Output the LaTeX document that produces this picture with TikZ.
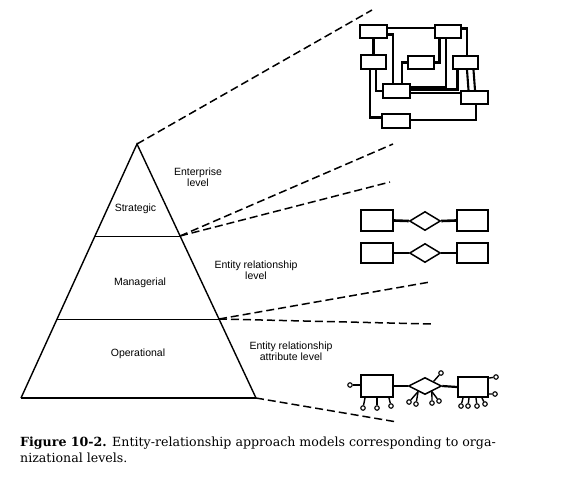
\documentclass[tikz,border=0pt]{standalone}
\usepackage{fontspec}
\setmainfont{Liberation Sans}
\newfontfamily\capfont{DejaVu Serif}
\usetikzlibrary{shapes.geometric,calc}
\begin{document}
\begin{tikzpicture}[x=1pt,y=-1pt,
  lbl/.style={font=\fontsize{10.5}{11}\selectfont, align=center, inner sep=0pt},
  edge/.style={line width=1.4pt},
  hline/.style={line width=1pt},
  dashln/.style={line width=1.5pt, dash pattern=on 8pt off 4pt},
  ebox/.style={draw, line width=1.9pt, rectangle, inner sep=0pt},
  conn/.style={line width=2.1pt},
  rel/.style={draw, line width=1.5pt, diamond, inner sep=0pt},
  attr/.style={draw, line width=1.1pt, circle, minimum size=4.5pt, inner sep=0pt},
  aline/.style={line width=1.4pt}]
\useasboundingbox (0,0) rectangle (565,480);
\fill[white] (0,0) rectangle (565,480);

% pyramid
\coordinate (apex) at (137,144);
\coordinate (bl) at (21,398);
\coordinate (br) at (256,398);
\coordinate (s1l) at (95,236);
\coordinate (s1r) at (180,236);
\coordinate (s2l) at (57,319);
\coordinate (s2r) at (219,319);
\draw[edge] (bl) -- (apex) -- (br);
\draw[line width=2.2pt] (bl) -- (br);
\draw[hline] (s1l) -- (s1r);
\draw[hline] (s2l) -- (s2r);

% level names
\node[lbl] (strat) at (135.5,209) {Strategic};
\node[lbl] (manag) at (140,283) {Managerial};
\node[lbl] (oper) at (138,354) {Operational};
\node[lbl] (ent) at (198,177) {Enterprise\\level};
\node[lbl] (erl) at (256,270) {Entity relationship\\level};
\node[lbl] (eral) at (291,351) {Entity relationship\\attribute level};

% dashed projections
\coordinate (d1) at (372,10);
\coordinate (d2) at (393,144);
\coordinate (d3) at (390,182);
\coordinate (d4) at (430,282);
\coordinate (d5) at (432,324);
\coordinate (d6) at (397,422);
\draw[dashln] (apex) -- (d1);
\draw[dashln] (s1r) -- (d2);
\draw[dashln] (s1r) -- (d3);
\draw[dashln] (s2r) -- (d4);
\draw[dashln] (s2r) -- (d5);
\draw[dashln] (br) -- (d6);

% enterprise network
\node[ebox, minimum width=27pt, minimum height=13pt] (A) at (373.5,31.5) {};
\node[ebox, minimum width=26pt, minimum height=13pt] (B) at (448,31.5) {};
\node[ebox, minimum width=25pt, minimum height=14pt] (C) at (373.5,62) {};
\node[ebox, minimum width=26pt, minimum height=13pt] (D) at (421,62.5) {};
\node[ebox, minimum width=25pt, minimum height=13pt] (E) at (465.5,62.5) {};
\node[ebox, minimum width=27pt, minimum height=14pt] (F) at (396.5,91) {};
\node[ebox, minimum width=27pt, minimum height=13pt] (G) at (474.5,97.5) {};
\node[ebox, minimum width=28pt, minimum height=14pt] (H) at (396,121) {};

\draw[conn] ([yshift=3.5pt]A.east) -- ([yshift=3.5pt]B.west);
\draw[conn] ([yshift=-3pt]A.east) -| ([xshift=-3.5pt]F.north);
\draw[conn] (A.south) -- (C.north);
\draw[conn] ([xshift=-3.5pt]C.south) |- ([yshift=3.5pt]H.west);
\draw[conn] ([xshift=2.5pt]C.south) |- (F.west);
\draw[conn] (D.west) -| ([xshift=5.5pt]F.north);
\draw[conn] (D.east) -| ([xshift=-8.5pt]B.south);
\draw[conn] ([yshift=4pt]F.east) -| ([xshift=-2pt]B.south);
\draw[conn] ([yshift=1.5pt]F.east) -| ([xshift=-8pt]E.south);
\coordinate (f3) at ([yshift=-2pt]F.east);
\draw[conn] (f3) -- (f3 -| G.west);
\draw[conn] ([yshift=3pt]B.east) -| ([xshift=1.5pt]E.north);
\draw[conn] ([xshift=1.5pt]E.south) -- ([xshift=-6pt]G.north);
\draw[conn] ([xshift=8pt]E.south) -- ([xshift=0.5pt]G.north);
\draw[conn] ([yshift=1pt]H.east) -| ([xshift=1.5pt]G.south);

% entity relationship level
\node[ebox, minimum width=32pt, minimum height=21pt] (L1) at (377,220.5) {};
\node[rel, minimum width=31pt, minimum height=19pt] (R1) at (425,221) {};
\node[ebox, minimum width=31pt, minimum height=21pt] (M1) at (472.5,220.5) {};
\node[ebox, minimum width=32pt, minimum height=20pt] (L2) at (377,253) {};
\node[rel, minimum width=31pt, minimum height=19pt] (R2) at (425,253) {};
\node[ebox, minimum width=31pt, minimum height=20pt] (M2) at (472.5,253) {};
\draw[line width=2.6pt] (L1.east) -- (R1.west);
\draw[line width=2.6pt] (R1.east) -- (M1.west);
\draw[line width=2.6pt] (L2.east) -- (R2.west);
\draw[line width=2.6pt] (R2.east) -- (M2.west);

% entity relationship attribute level
\node[ebox, minimum width=32pt, minimum height=22pt] (L3) at (377,386) {};
\node[rel, minimum width=33pt, minimum height=17pt] (R3) at (425,386) {};
\node[ebox, minimum width=30pt, minimum height=20pt] (M3) at (473,387) {};
\draw[line width=2.2pt] (L3.east) -- (R3.west);
\draw[line width=2.2pt] (R3.east) -- (M3.west);

\node[attr] (a1) at (350,385) {};
\node[attr] (a2) at (363,408) {};
\node[attr] (a3) at (377,408) {};
\node[attr] (a4) at (391,406) {};
\draw[aline] (L3.west |- a1) -- (a1);
\draw[aline] ([xshift=-12pt]L3.south) -- (a2);
\draw[aline] (L3.south) -- (a3);
\draw[aline] ([xshift=12pt]L3.south) -- (a4);

\coordinate (r3bl) at ($(R3.south)!0.4!(R3.west)$);
\coordinate (r3br) at ($(R3.south)!0.4!(R3.east)$);
\coordinate (r3tr) at ($(R3.north)!0.5!(R3.east)$);
\node[attr] (b1) at (441,373) {};
\node[attr] (b2) at (409,402) {};
\node[attr] (b3) at (416,404) {};
\node[attr] (b4) at (432,403) {};
\node[attr] (b5) at (439,401) {};
\draw[aline] (r3tr) -- (b1);
\draw[aline] (r3bl) -- (b2);
\draw[aline] (r3bl) -- (b3);
\draw[aline] (r3br) -- (b4);
\draw[aline] (r3br) -- (b5);

\node[attr] (c1) at (496,377) {};
\node[attr] (c2) at (495,394) {};
\node[attr] (c3) at (461,406) {};
\node[attr] (c4) at (468,406) {};
\node[attr] (c5) at (477,406) {};
\node[attr] (c6) at (485,404) {};
\draw[aline] ([yshift=-2pt]M3.north east) -- (c1);
\draw[aline] ([yshift=4pt]M3.south east) -- (c2);
\draw[aline] ([xshift=-10pt]M3.south) -- (c3);
\draw[aline] ([xshift=-4pt]M3.south) -- (c4);
\draw[aline] ([xshift=3pt]M3.south) -- (c5);
\draw[aline] ([xshift=9pt]M3.south) -- (c6);

% caption
\node[anchor=base west, inner sep=0pt, font=\capfont\fontsize{12.6}{16}\selectfont, align=left] (cap) at (20,462)
  {\textbf{Figure 10-2.} Entity-relationship approach models corresponding to orga-\\nizational levels.};
\end{tikzpicture}
\end{document}
